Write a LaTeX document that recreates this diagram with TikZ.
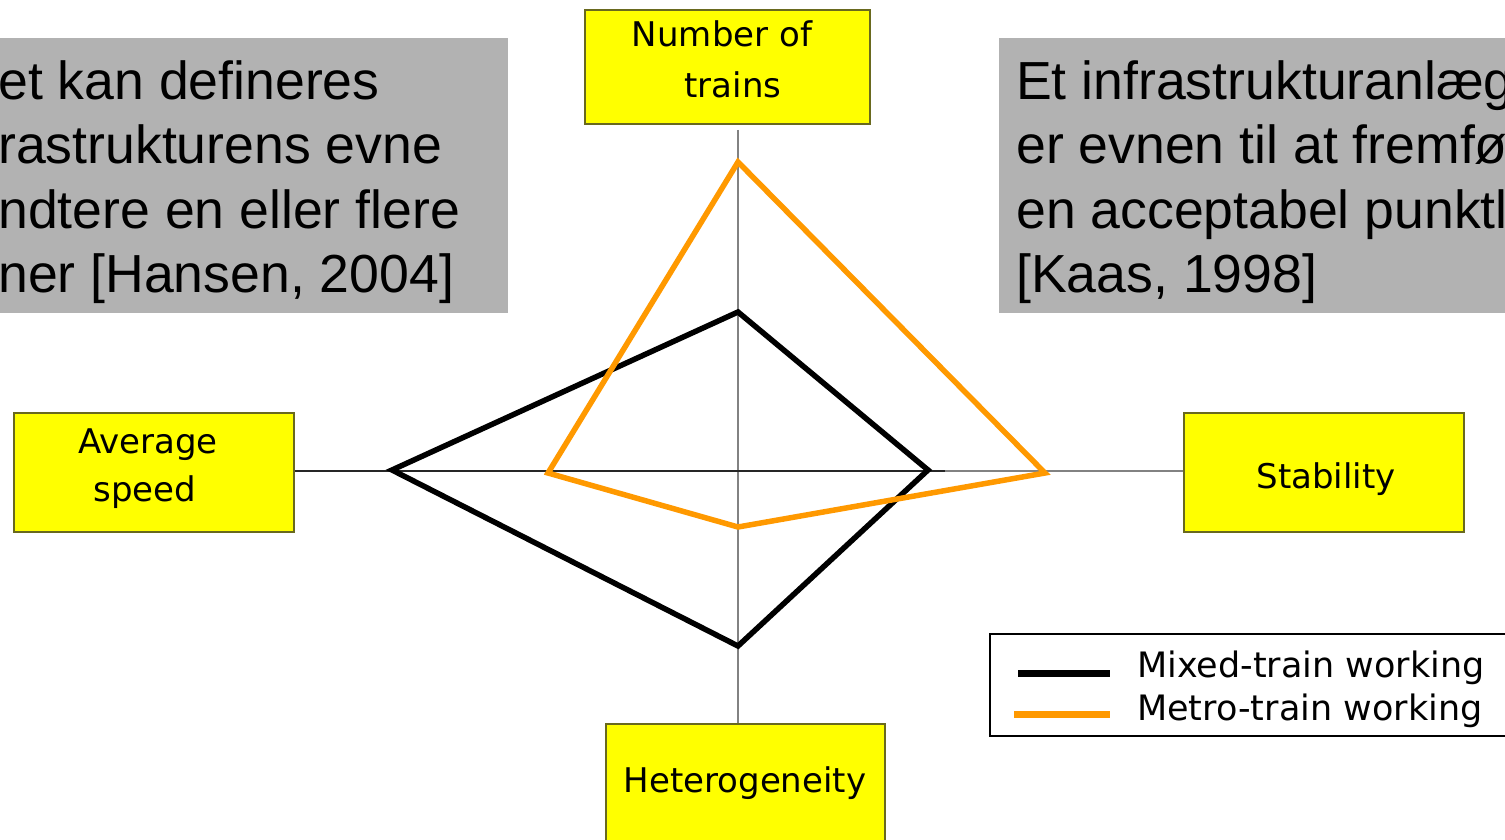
\documentclass[tikz,border=0pt]{standalone}
\usepackage{fontspec}
\setmainfont{Liberation Sans}
\newfontfamily\labelfont{DejaVu Sans}
\definecolor{boxgray}{RGB}{178,178,178}
\definecolor{ybord}{RGB}{105,105,30}
\definecolor{yfill}{RGB}{255,255,0}
\definecolor{metro}{RGB}{255,153,0}
\definecolor{axisgray}{RGB}{130,130,130}
\tikzset{
  graytext/.style={anchor=base west, inner sep=0pt, font=\fontsize{53.6}{64}\selectfont},
  ybox/.style={draw=ybord, line width=1.6pt, fill=yfill, inner sep=0pt, rectangle},
  ylabel/.style={anchor=base, inner sep=0pt, font=\labelfont\fontsize{34}{49}\selectfont},
  legtext/.style={anchor=base west, inner sep=0pt, font=\labelfont\fontsize{35}{44}\selectfont},
  mixed/.style={line width=5.5pt, black},
  metroline/.style={line width=5.5pt, metro},
}
\begin{document}
\begin{tikzpicture}[x=1pt,y=-1pt]
\useasboundingbox (0,0) rectangle (1505,840);
\clip (0,0) rectangle (1505,840);
\fill[white] (0,0) rectangle (1505,840);

% gray text boxes
\node[fill=boxgray, inner sep=0pt, minimum width=518pt, minimum height=275pt, anchor=north west] (lbox) at (-10,38) {};
\node[graytext] (l1) at (-2,100) {et kan defineres};
\node[graytext] (l2) at (-2,164) {rastrukturens evne};
\node[graytext] (l3) at (-2,228) {ndtere en eller flere};
\node[graytext] (l4) at (-2,292) {ner [Hansen, 2004]};

\node[fill=boxgray, inner sep=0pt, minimum width=520pt, minimum height=275pt, anchor=north west] (rbox) at (999,38) {};
\node[graytext] (r1) at (1016,100) {Et infrastrukturanlæg};
\node[graytext] (r2) at (1016,164) {er evnen til at fremfø};
\node[graytext] (r3) at (1016,228) {en acceptabel punktl};
\node[graytext] (r4) at (1016,292) {[Kaas, 1998]};

% yellow label boxes
\node[ybox, minimum width=285pt, minimum height=114pt, anchor=north west] (num) at (584,9) {};
\node[ylabel] (numt1) at (722,47) {Number of};
\node[ylabel] (numt2) at (733,98) {trains};

\node[ybox, minimum width=280pt, minimum height=119pt, anchor=north west] (avg) at (13,412) {};
\node[ylabel] (avgt1) at (148,453) {Average};
\node[ylabel] (avgt2) at (145,501) {speed};

\node[ybox, minimum width=280pt, minimum height=119pt, anchor=north west] (stab) at (1183,412) {};
\node[ylabel] (stabt) at (1326,488) {Stability};

\node[ybox, minimum width=279pt, minimum height=140pt, anchor=north west] (het) at (605,723) {};
\node[ylabel] (hett) at (745,792) {Heterogeneity};

% axes
\coordinate (vtop) at (738,130);
\coordinate (hsplit) at (945,471);
\draw[axisgray, line width=1.8pt] (vtop) -- (het.north -| vtop);
\draw[black!85, line width=1.5pt] (avg.east |- hsplit) -- (hsplit);
\draw[axisgray, line width=1.8pt] (hsplit) -- (stab.west |- hsplit);

% mixed-train polygon
\coordinate (bt) at (738,312);
\coordinate (br) at (928,470);
\coordinate (bb) at (738,646);
\coordinate (bl) at (392,470);
\draw[mixed] (bt) -- (br) -- (bb) -- (bl) -- cycle;

% metro-train polygon
\coordinate (ot) at (738,162);
\coordinate (or) at (1045,473);
\coordinate (ob) at (738,527);
\coordinate (ol) at (548,473);
\draw[metroline] (ot) -- (or) -- (ob) -- (ol) -- cycle;

% legend
\node[draw=black, line width=1.6pt, fill=white, inner sep=0pt, minimum width=530pt, minimum height=102pt, anchor=north west] (leg) at (989,633) {};
\coordinate (lm1) at (1018,673);
\coordinate (lm2) at (1110,673);
\coordinate (lo1) at (1014,714);
\coordinate (lo2) at (1110,714);
\draw[line width=7pt, black] (lm1) -- (lm2);
\draw[line width=7pt, metro] (lo1) -- (lo2);
\node[legtext] (legt1) at (1137,677) {Mixed-train working};
\node[legtext] (legt2) at (1137,720) {Metro-train working};
\end{tikzpicture}
\end{document}
